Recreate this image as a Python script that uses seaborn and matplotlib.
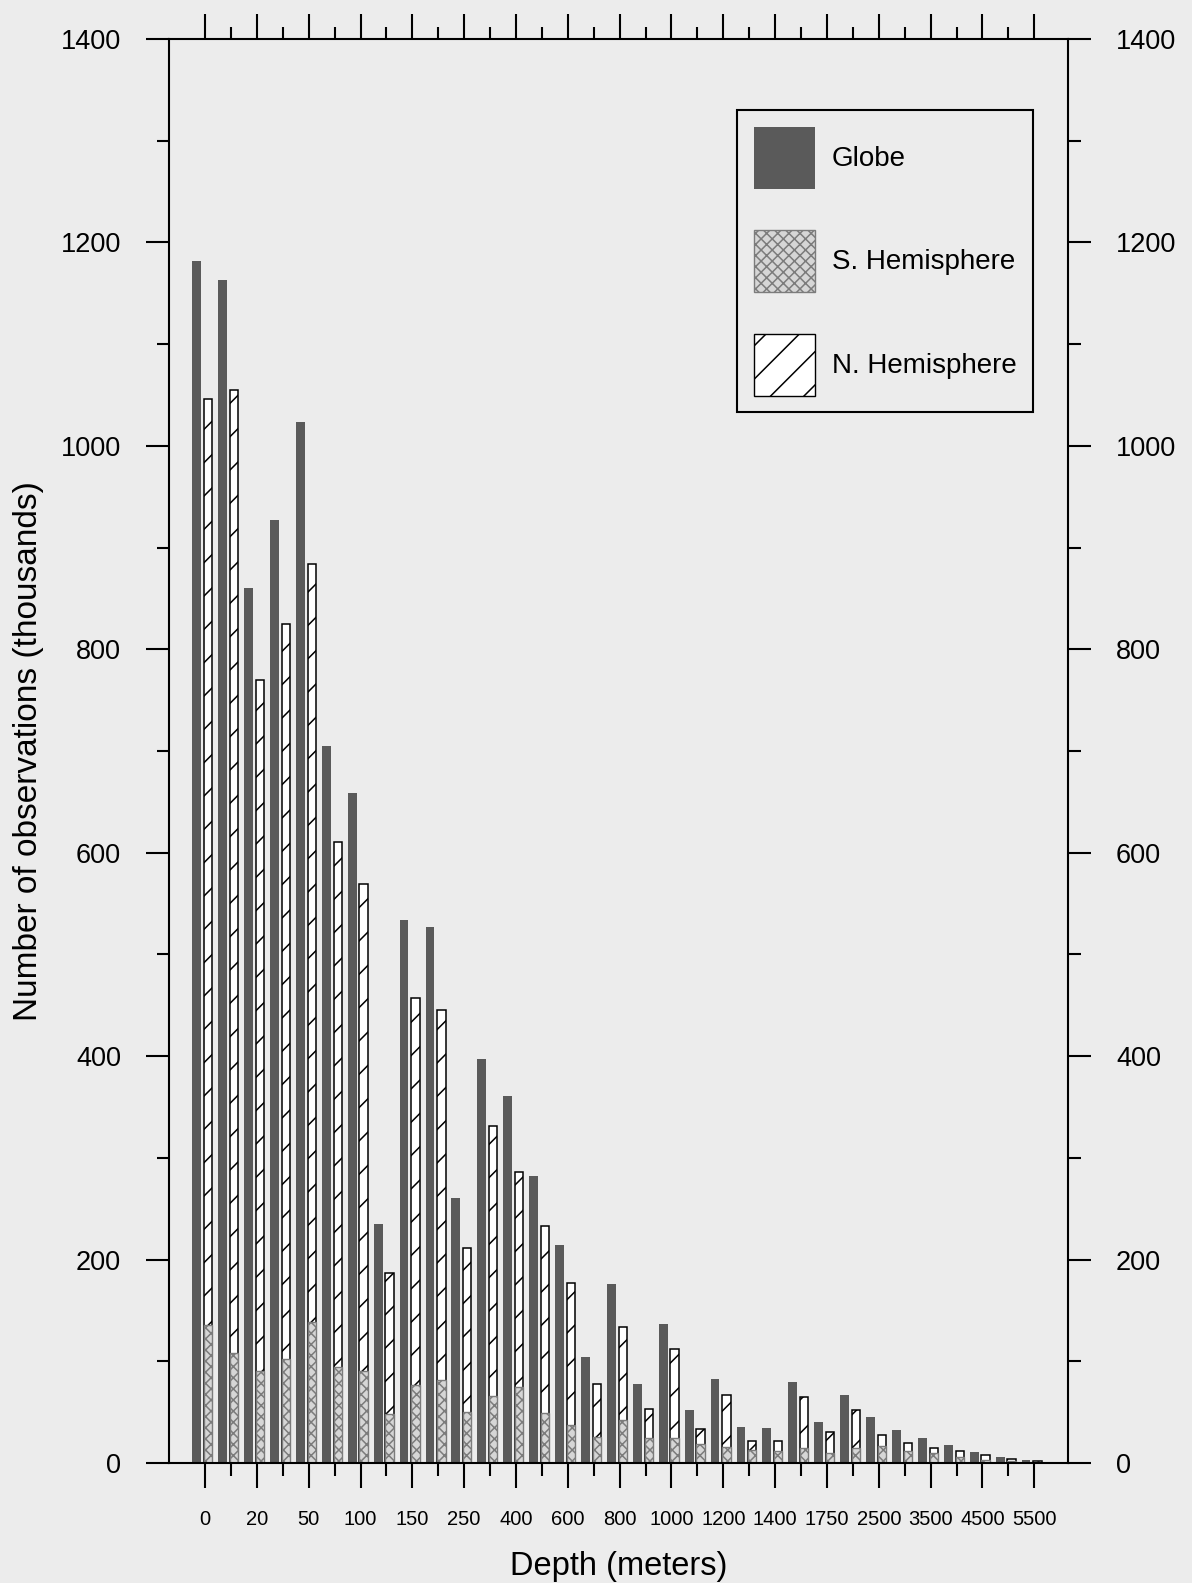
import numpy as np
import pandas as pd
import matplotlib
matplotlib.use("Agg")
import matplotlib.pyplot as plt
from matplotlib.patches import Patch
import seaborn as sns

# Standard depth levels (m) and observation counts (thousands)
depths = [0, 10, 20, 30, 50, 75, 100, 125, 150, 200, 250, 300, 400, 500, 600,
          700, 800, 900, 1000, 1100, 1200, 1300, 1400, 1500, 1750, 2000, 2500,
          3000, 3500, 4000, 4500, 5000, 5500]
globe = [1182, 1163, 860, 927, 1023, 705, 659, 235, 534, 527, 261, 397, 361,
         282, 214, 104, 176, 78, 137, 52, 83, 35, 34, 80, 40, 67, 45, 32, 25,
         18, 11, 6, 3]
south = [136, 108, 90, 102, 139, 94, 90, 48, 77, 82, 50, 66, 75, 49, 37, 26,
         42, 25, 25, 19, 16, 13, 12, 15, 10, 15, 17, 12, 10, 6, 3, 2, 1]
north = [1046, 1055, 770, 825, 884, 611, 569, 187, 457, 445, 211, 331, 286,
         233, 177, 78, 134, 53, 112, 33, 67, 22, 22, 65, 30, 52, 28, 20, 15,
         12, 8, 4, 2]
series_labels = ["Globe", "S. Hemisphere", "N. Hemisphere"]

BG = "#ececec"
GLOBE_C = "#5a5a5a"
SOUTH_FACE = "#d6d6d6"
SOUTH_EDGE = "#7c7c7c"

sns.set_style("ticks")
plt.rcParams["font.family"] = ["Liberation Sans", "DejaVu Sans"]
plt.rcParams["hatch.linewidth"] = 1.1
plt.rcParams["axes.linewidth"] = 1.5
plt.rcParams["text.color"] = "black"
plt.rcParams["axes.labelcolor"] = "black"
plt.rcParams["xtick.color"] = "black"
plt.rcParams["ytick.color"] = "black"

fig = plt.figure(figsize=(11.92, 15.83), dpi=100, facecolor=BG)
ax = fig.add_axes([169 / 1192, 1 - 1463 / 1583, 899 / 1192, 1424 / 1583])
ax.set_facecolor(BG)

pos = np.arange(len(depths))
df = pd.DataFrame({"pos": pos, "depth": depths,
                   "globe": globe, "south": south, "north": north})
df["x_globe"] = df["pos"] - 0.32
df["x_hemi"] = df["pos"] + 0.12

common = dict(native_scale=True, errorbar=None, saturation=1, ax=ax)
sns.barplot(data=df, x="x_globe", y="globe", width=0.34, color=GLOBE_C,
            linewidth=0, **common)
sns.barplot(data=df, x="x_hemi", y="north", width=0.32, color="white",
            edgecolor="black", linewidth=1.1, hatch="/", **common)
sns.barplot(data=df, x="x_hemi", y="south", width=0.32, color=SOUTH_FACE,
            edgecolor=SOUTH_EDGE, linewidth=1.0, hatch="xxx", **common)

ax.set_xlim(-1.39, 33.3)
ax.set_ylim(0, 1400)

ax.set_xticks(pos[::2])
ax.set_xticklabels([str(d) for d in depths[::2]])
ax.set_xticks(pos[1::2], minor=True)
ax.set_yticks(range(0, 1401, 200))
ax.set_yticks(range(100, 1400, 200), minor=True)

ax.tick_params(axis="x", which="both", bottom=True, top=True, direction="out",
               width=1.5, color="black", labelcolor="black", labelsize=14.5,
               pad=16)
ax.tick_params(axis="x", which="major", length=18)
ax.tick_params(axis="x", which="minor", length=9)
ax.tick_params(axis="y", which="both", left=True, right=True, labelleft=True,
               labelright=True, direction="out", width=1.5, color="black",
               labelcolor="black", labelsize=19.5, pad=18)
ax.tick_params(axis="y", which="major", length=16.5)
ax.tick_params(axis="y", which="minor", length=9)

for sp in ax.spines.values():
    sp.set_visible(True)
    sp.set_color("black")
    sp.set_linewidth(1.5)

ax.set_xlabel("Depth (meters)", fontsize=23.5, labelpad=16, color="black")
ax.set_ylabel("Number of observations (thousands)", fontsize=24,
              color="black")
ax.yaxis.set_label_coords(-0.139, 0.5)

handles = [
    Patch(facecolor=GLOBE_C, edgecolor="none", label=series_labels[0]),
    Patch(facecolor=SOUTH_FACE, edgecolor=SOUTH_EDGE, hatch="xxx",
          label=series_labels[1]),
    Patch(facecolor="white", edgecolor="black", hatch="/",
          label=series_labels[2]),
]
leg = ax.legend(handles=handles, loc="upper right",
                bbox_to_anchor=(0.961, 0.950), borderaxespad=0, fontsize=20,
                frameon=True, fancybox=False, edgecolor="black", facecolor=BG,
                framealpha=1, handlelength=2.2, handleheight=3.05,
                labelspacing=1.5, handletextpad=0.6, borderpad=0.6)
leg.get_frame().set_linewidth(1.5)
for t in leg.get_texts():
    t.set_color("black")

fig.savefig("out.png", dpi=100, facecolor=BG)
